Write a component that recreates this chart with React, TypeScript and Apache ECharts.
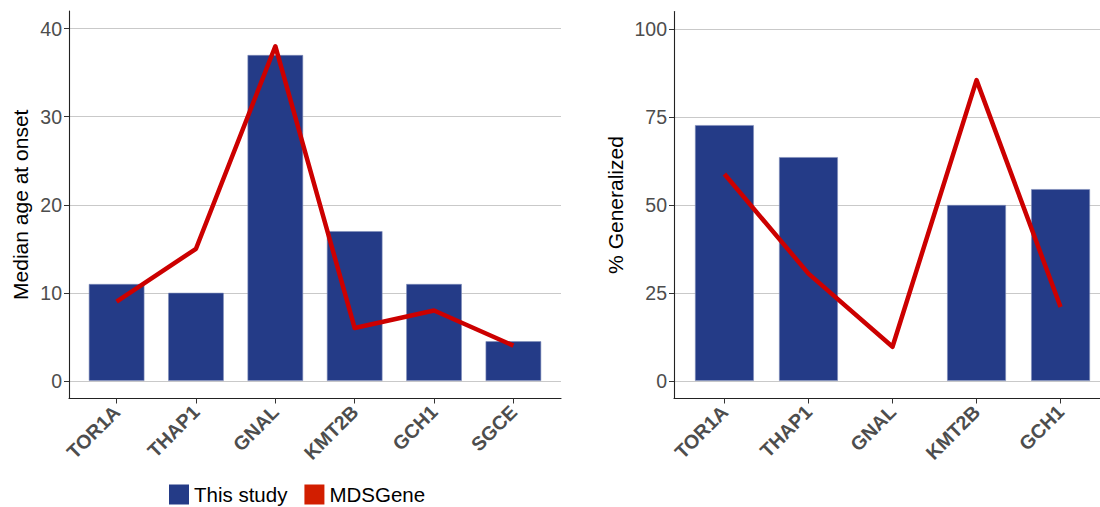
import React, { useEffect, useRef } from "react";
import * as echarts from "echarts";

const leftCats = ["TOR1A", "THAP1", "GNAL", "KMT2B", "GCH1", "SGCE"];
const leftStudy = [11, 10, 37, 17, 11, 4.5];
const leftMDS = [9, 15, 38, 6, 8, 4];
const leftTicks = [0, 10, 20, 30, 40];

const rightCats = ["TOR1A", "THAP1", "GNAL", "KMT2B", "GCH1"];
const rightStudy: (number | null)[] = [72.7, 63.6, null, 50, 54.5];
const rightMDS = [58.8, 30.5, 9.7, 85.5, 21];
const rightTicks = [0, 25, 50, 75, 100];

const FONT = "'Liberation Sans', Arial, Helvetica, sans-serif";
const BAR = "#243B87";
const RED = "#CC0000";

function toPairs(vals: (number | null)[]) {
  return vals
    .map((v, i) => (v == null ? null : [i, v]))
    .filter((p) => p !== null) as number[][];
}

function xAxisFor(cats: string[], gridIndex: number) {
  const idx = cats.map((_, i) => i);
  return {
    type: "value",
    gridIndex,
    min: -0.6,
    max: cats.length - 1 + 0.6,
    axisLine: { show: true, onZero: false, lineStyle: { color: "#222", width: 1.1 } },
    axisTick: { show: true, customValues: idx, length: 5, lineStyle: { color: "#333", width: 1 } },
    splitLine: { show: false },
    axisLabel: {
      customValues: idx,
      formatter: (v: number) => cats[Math.round(v)] ?? "",
      rotate: 45,
      margin: 10,
      fontFamily: FONT,
      fontWeight: "bold",
      fontSize: 19.5,
      color: "#4D4D4D",
    },
  };
}

function yAxisFor(ticks: number[], min: number, max: number, gridIndex: number, name: string, nameGap: number) {
  return {
    type: "value",
    gridIndex,
    min,
    max,
    name,
    nameLocation: "middle",
    nameRotate: 90,
    nameGap,
    nameTextStyle: { fontFamily: FONT, fontSize: 21, color: "#000" },
    axisLine: { show: true, onZero: false, lineStyle: { color: "#222", width: 1.1 } },
    axisTick: { show: true, customValues: ticks, length: 5, lineStyle: { color: "#333", width: 1 } },
    splitLine: { show: true, lineStyle: { color: "#C9C9C9", width: 1.2 } },
    axisLabel: {
      customValues: ticks,
      margin: 7,
      fontFamily: FONT,
      fontSize: 19.5,
      color: "#4D4D4D",
    },
  };
}

export default function App() {
  const ref = useRef<HTMLDivElement>(null);
  useEffect(() => {
    if (!ref.current) return;
    const chart = echarts.init(ref.current, undefined, { renderer: "svg" });
    const barStyle = { color: BAR, borderColor: "#7F8DB8", borderWidth: 0.6 };
    const lineStyle = { color: RED, width: 4.5, cap: "butt", join: "round" };
    chart.setOption({
      animation: false,
      backgroundColor: "#fff",
      textStyle: { fontFamily: FONT },
      grid: [
        { left: 69, top: 11, width: 492, height: 387.5, containLabel: false, outerBoundsMode: "none" },
        { left: 674, top: 11.5, width: 437, height: 387, containLabel: false, outerBoundsMode: "none" },
      ],
      legend: {
        left: 169,
        top: 484,
        padding: 0,
        itemWidth: 20,
        itemHeight: 20,
        itemGap: 17,
        icon: "rect",
        textStyle: { fontFamily: FONT, fontSize: 20.5, color: "#000" },
        data: [
          { name: "This study", itemStyle: { color: BAR, borderWidth: 0 } },
          { name: "MDSGene", itemStyle: { color: "#D21E00", borderWidth: 0 } },
        ],
      },
      xAxis: [xAxisFor(leftCats, 0), xAxisFor(rightCats, 1)],
      yAxis: [
        yAxisFor(leftTicks, -2, 42, 0, "Median age at onset", 38),
        yAxisFor(rightTicks, -5, 105, 1, "% Generalized", 48),
      ],
      series: [
        {
          name: "This study",
          type: "bar",
          xAxisIndex: 0,
          yAxisIndex: 0,
          barWidth: "70%",
          itemStyle: barStyle,
          data: toPairs(leftStudy),
        },
        {
          name: "MDSGene",
          type: "line",
          xAxisIndex: 0,
          yAxisIndex: 0,
          symbol: "none",
          lineStyle,
          itemStyle: { color: RED },
          data: toPairs(leftMDS),
        },
        {
          name: "This study",
          type: "bar",
          xAxisIndex: 1,
          yAxisIndex: 1,
          barWidth: "70%",
          itemStyle: barStyle,
          data: toPairs(rightStudy),
        },
        {
          name: "MDSGene",
          type: "line",
          xAxisIndex: 1,
          yAxisIndex: 1,
          symbol: "none",
          lineStyle,
          itemStyle: { color: RED },
          data: toPairs(rightMDS),
        },
      ],
    });
    return () => chart.dispose();
  }, []);
  return (
    <div
      ref={ref}
      style={{ position: "absolute", left: 0, top: 0, width: 1100, height: 507 }}
    />
  );
}
